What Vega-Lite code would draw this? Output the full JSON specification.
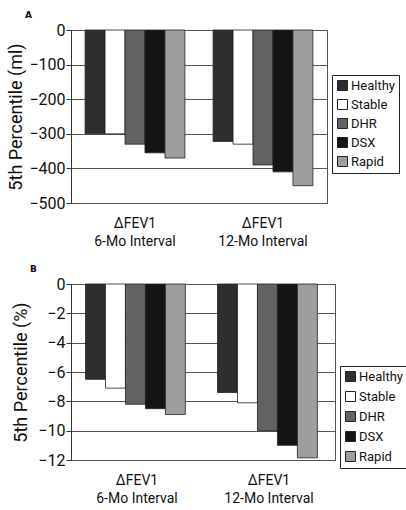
{
  "$schema": "https://vega.github.io/schema/vega-lite/v6.json",
  "padding": {"top": 10, "left": 7, "right": 0, "bottom": 0},
  "background": "white",
  "config": {
    "font": "Roboto",
    "view": {"stroke": "#555", "strokeWidth": 1},
    "axis": {"labelFont": "Roboto", "titleFont": "Roboto", "labelColor": "#111", "titleColor": "#111"},
    "legend": {"labelFont": "Roboto"}
  },
  "datasets": {
    "ml": [
      {"interval": "ΔFEV1|6-Mo Interval", "group": "Healthy", "value": -300},
      {"interval": "ΔFEV1|6-Mo Interval", "group": "Stable", "value": -300},
      {"interval": "ΔFEV1|6-Mo Interval", "group": "DHR", "value": -330},
      {"interval": "ΔFEV1|6-Mo Interval", "group": "DSX", "value": -355},
      {"interval": "ΔFEV1|6-Mo Interval", "group": "Rapid", "value": -370},
      {"interval": "ΔFEV1|12-Mo Interval", "group": "Healthy", "value": -322},
      {"interval": "ΔFEV1|12-Mo Interval", "group": "Stable", "value": -330},
      {"interval": "ΔFEV1|12-Mo Interval", "group": "DHR", "value": -390},
      {"interval": "ΔFEV1|12-Mo Interval", "group": "DSX", "value": -410},
      {"interval": "ΔFEV1|12-Mo Interval", "group": "Rapid", "value": -450}
    ],
    "pct": [
      {"interval": "ΔFEV1|6-Mo Interval", "group": "Healthy", "value": -6.5},
      {"interval": "ΔFEV1|6-Mo Interval", "group": "Stable", "value": -7.1},
      {"interval": "ΔFEV1|6-Mo Interval", "group": "DHR", "value": -8.2},
      {"interval": "ΔFEV1|6-Mo Interval", "group": "DSX", "value": -8.5},
      {"interval": "ΔFEV1|6-Mo Interval", "group": "Rapid", "value": -8.9},
      {"interval": "ΔFEV1|12-Mo Interval", "group": "Healthy", "value": -7.4},
      {"interval": "ΔFEV1|12-Mo Interval", "group": "Stable", "value": -8.1},
      {"interval": "ΔFEV1|12-Mo Interval", "group": "DHR", "value": -10.0},
      {"interval": "ΔFEV1|12-Mo Interval", "group": "DSX", "value": -11.0},
      {"interval": "ΔFEV1|12-Mo Interval", "group": "Rapid", "value": -11.85}
    ]
  },
  "concat": [
    {
      "data": {"name": "ml"},
      "width": 256,
      "height": 173,
      "title": {"text": "A", "anchor": "start", "frame": "group", "fontSize": 9, "fontWeight": "bold", "font": "DejaVu Sans", "dx": -46, "offset": 2, "color": "#111"},
      "mark": {"type": "bar", "stroke": "#222", "strokeWidth": 0.8},
      "encoding": {
        "x": {"field": "interval", "type": "nominal", "sort": null,
          "scale": {"paddingInner": 0.22, "paddingOuter": 0.11},
          "axis": {"title": null, "labelAngle": 0, "ticks": false, "domain": false, "labelExpr": "split(datum.label, '|')", "labelFontSize": 14, "labelLineHeight": 18, "labelPadding": 20, "labelBaseline": "middle"}},
        "xOffset": {"field": "group", "type": "nominal", "sort": ["Healthy", "Stable", "DHR", "DSX", "Rapid"], "scale": {"paddingInner": 0, "paddingOuter": 0}},
        "y": {"field": "value", "type": "quantitative",
          "scale": {"domain": [-500, 0], "nice": false},
          "axis": {"title": "5th Percentile (ml)", "values": [0, -100, -200, -300, -400, -500], "titleFontSize": 18, "titleFontWeight": "normal", "titlePadding": 3, "labelFontSize": 16, "labelPadding": 1, "tickSize": 5, "tickColor": "#333", "domainColor": "#333", "gridColor": "#555", "gridOpacity": 1}},
        "color": {"field": "group", "type": "nominal",
          "scale": {"domain": ["Healthy", "Stable", "DHR", "DSX", "Rapid"], "range": ["#2e2e2e", "#ffffff", "#626262", "#141414", "#9e9e9e"]},
          "legend": {"title": null, "orient": "none", "legendX": 261, "legendY": 45, "strokeColor": "#222", "padding": 4, "symbolType": "square", "symbolSize": 100, "symbolStrokeColor": "#222", "symbolStrokeWidth": 1, "labelFontSize": 13, "labelColor": "#111", "rowPadding": 4, "labelOffset": 2}}
      }
    },
    {
      "data": {"name": "pct"},
      "width": 264,
      "height": 176,
      "title": {"text": "B", "anchor": "start", "frame": "group", "fontSize": 9, "fontWeight": "bold", "font": "DejaVu Sans", "dx": -41, "offset": 2, "color": "#111"},
      "mark": {"type": "bar", "stroke": "#222", "strokeWidth": 0.8},
      "encoding": {
        "x": {"field": "interval", "type": "nominal", "sort": null,
          "scale": {"paddingInner": 0.22, "paddingOuter": 0.11},
          "axis": {"title": null, "labelAngle": 0, "ticks": false, "domain": false, "labelExpr": "split(datum.label, '|')", "labelFontSize": 14, "labelLineHeight": 18, "labelPadding": 20, "labelBaseline": "middle"}},
        "xOffset": {"field": "group", "type": "nominal", "sort": ["Healthy", "Stable", "DHR", "DSX", "Rapid"], "scale": {"paddingInner": 0, "paddingOuter": 0}},
        "y": {"field": "value", "type": "quantitative",
          "scale": {"domain": [-12, 0], "nice": false},
          "axis": {"title": "5th Percentile (%)", "values": [0, -2, -4, -6, -8, -10, -12], "titleFontSize": 18, "titleFontWeight": "normal", "titlePadding": 7, "labelFontSize": 16, "labelPadding": 1, "tickSize": 5, "tickColor": "#333", "domainColor": "#333", "gridColor": "#555", "gridOpacity": 1}},
        "color": {"field": "group", "type": "nominal",
          "scale": {"domain": ["Healthy", "Stable", "DHR", "DSX", "Rapid"], "range": ["#2e2e2e", "#ffffff", "#626262", "#141414", "#9e9e9e"]},
          "legend": {"title": null, "orient": "none", "legendX": 269, "legendY": 82, "strokeColor": "#222", "padding": 4, "symbolType": "square", "symbolSize": 100, "symbolStrokeColor": "#222", "symbolStrokeWidth": 1, "labelFontSize": 13, "labelColor": "#111", "rowPadding": 5, "labelOffset": 2}}
      }
    }
  ],
  "columns": 1,
  "align": "none",
  "spacing": 15,
  "resolve": {"legend": {"color": "independent"}, "scale": {"color": "independent"}}
}
